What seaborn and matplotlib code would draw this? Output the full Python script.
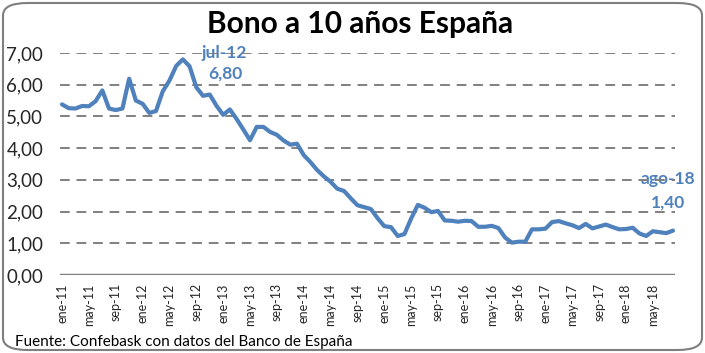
import pandas as pd
import seaborn as sns
import matplotlib.pyplot as plt
from matplotlib.patches import FancyBboxPatch

# Monthly average yield of the Spanish 10-year bond, ene-11 .. ago-18
meses = ["ene", "feb", "mar", "abr", "may", "jun", "jul", "ago", "sep", "oct", "nov", "dic"]
anios = ["11", "12", "13", "14", "15", "16", "17", "18"]
periodos = [f"{m}-{a}" for a in anios for m in meses][:92]

rentabilidad = [
    5.38, 5.26, 5.25, 5.33, 5.32, 5.48, 5.82, 5.25, 5.20, 5.25, 6.19, 5.50,   # 2011
    5.40, 5.11, 5.17, 5.79, 6.13, 6.59, 6.80, 6.58, 5.92, 5.65, 5.69, 5.34,   # 2012
    5.05, 5.22, 4.92, 4.59, 4.25, 4.67, 4.67, 4.51, 4.42, 4.24, 4.11, 4.14,   # 2013
    3.78, 3.56, 3.31, 3.11, 2.94, 2.72, 2.65, 2.42, 2.20, 2.14, 2.08, 1.79,   # 2014
    1.54, 1.51, 1.23, 1.29, 1.78, 2.21, 2.12, 1.98, 2.02, 1.72, 1.71, 1.68,   # 2015
    1.71, 1.70, 1.52, 1.52, 1.55, 1.48, 1.18, 1.02, 1.05, 1.05, 1.44, 1.44,   # 2016
    1.46, 1.67, 1.70, 1.63, 1.57, 1.48, 1.61, 1.47, 1.53, 1.59, 1.51, 1.44,   # 2017
    1.45, 1.49, 1.31, 1.23, 1.38, 1.35, 1.32, 1.40,                           # 2018
]

df = pd.DataFrame({"periodo": periodos, "valor": rentabilidad})
df["pos"] = range(len(df))

sns.set_style("white")
plt.rcParams["font.family"] = ["Lato", "DejaVu Sans"]

azul = "#4F81BD"
gris = "#808080"

fig = plt.figure(figsize=(7.05, 3.53), dpi=100)
ax = fig.add_axes([60 / 705, 1 - 275 / 353, 615 / 705, 222 / 353])

# rounded frame around the whole chart
fig.patches.append(FancyBboxPatch(
    (3 / 705, 3 / 353), 699 / 705, 347 / 353,
    boxstyle="round,pad=0,rounding_size=0.035",
    transform=fig.transFigure, facecolor="none", edgecolor="#7f7f7f", linewidth=1.5))

sns.lineplot(data=df, x="pos", y="valor", color=azul, linewidth=3, ax=ax, zorder=3)

ax.set_ylim(0, 7)
ax.set_xlim(-0.3, len(df) - 0.7)

# dashed gridlines (drawn over the annotation text, as in the original)
for v in range(1, 8):
    ax.axhline(v, color=gris, linestyle=(0, (5, 3.5)), linewidth=1.4, zorder=2)
ax.axhline(0, color=gris, linewidth=2.5, zorder=4)

ax.set_yticks(range(0, 8))
ax.set_yticklabels([f"{v},00" for v in range(0, 8)])
ticks = list(range(0, len(df), 4))
ax.set_xticks(ticks)
ax.set_xticklabels([periodos[i] for i in ticks], rotation=90)
ax.tick_params(axis="y", length=0, pad=12, labelsize=13.5)
ax.tick_params(axis="x", length=0, pad=6, labelsize=9)
ax.set_xlabel("")
ax.set_ylabel("")
sns.despine(ax=ax, left=True, bottom=True, top=True, right=True)

# annotations
i_max = 18
ax.text(i_max + 6.2, 7.0, periodos[i_max], color=azul, fontsize=12.5, fontweight="bold",
        ha="center", va="center", zorder=1)
ax.text(i_max + 6.3, 6.34, f"{rentabilidad[i_max]:.2f}".replace(".", ","), color=azul,
        fontsize=12.5, fontweight="bold", ha="center", va="center", zorder=1)
i_fin = len(df) - 1
ax.text(i_fin - 0.7, 3.03, periodos[i_fin], color=azul, fontsize=12.5, fontweight="bold",
        ha="center", va="center", zorder=1, clip_on=False)
ax.text(i_fin - 0.7, 2.27, f"{rentabilidad[i_fin]:.2f}".replace(".", ","), color=azul,
        fontsize=12.5, fontweight="bold", ha="center", va="center", zorder=1, clip_on=False)

fig.text(360 / 705, 1 - 24 / 353, "Bono a 10 años España", fontsize=21.5, fontweight="bold",
         ha="center", va="center", color="black")
fig.text(15 / 705, 1 - 342 / 353, "Fuente: Confebask con datos del Banco de España",
         fontsize=11, ha="left", va="center", color="black")

fig.savefig("out.png", dpi=100)
